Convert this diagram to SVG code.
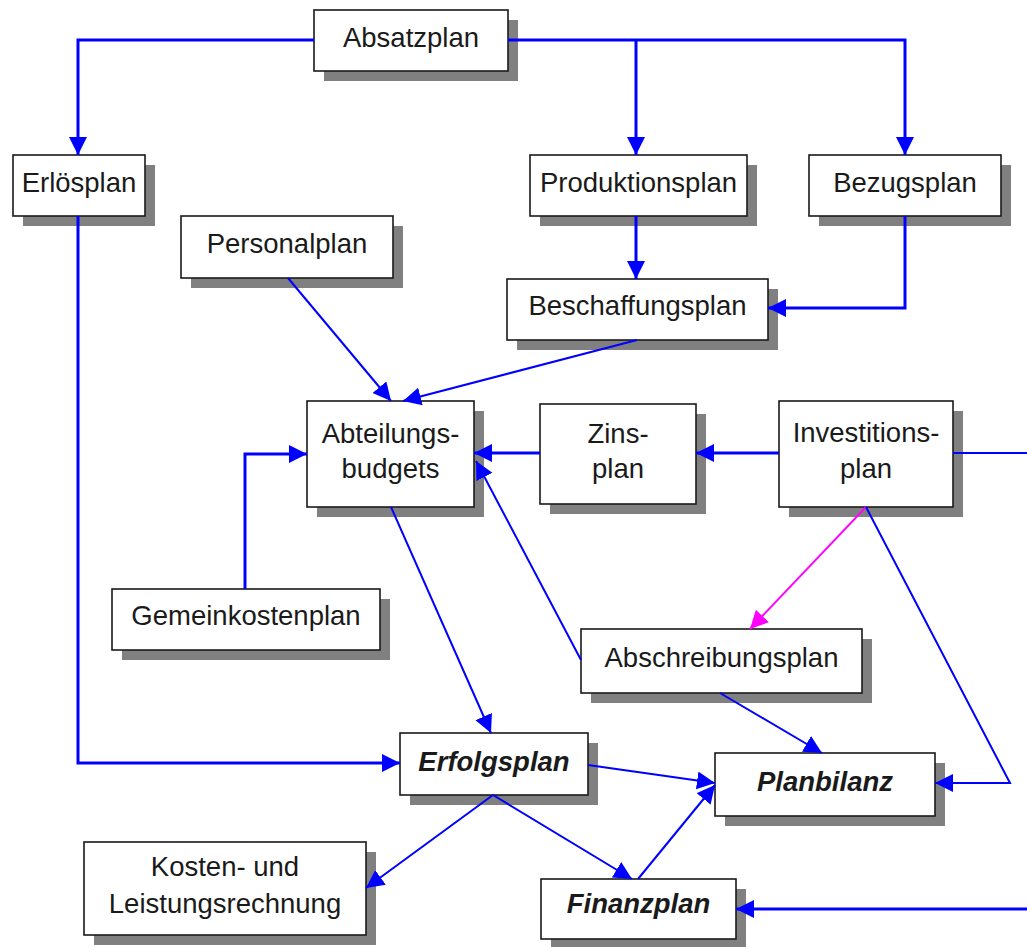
<svg xmlns="http://www.w3.org/2000/svg" width="1027" height="947" viewBox="0 0 1027 947">
  <style>
    .shadow { fill: #808080; }
    .box { fill: #ffffff; stroke: #1a1a1a; stroke-width: 1.6; }
    .lbl { font-family: "Liberation Sans", Arial, sans-serif; font-size: 27.5px; fill: #1a1a1a; text-anchor: middle; }
    .em { font-weight: bold; font-style: italic; }
    .thick { fill: none; stroke: #0000ff; stroke-width: 3; marker-end: url(#arrow); }
    .thin { fill: none; stroke: #0000ff; stroke-width: 2; marker-end: url(#arrow); }
    .plain { fill: none; stroke: #0000ff; stroke-width: 2; }
    .pink { fill: none; stroke: #ff00ff; stroke-width: 2; marker-end: url(#arrowPink); }
  </style>
  <defs>
    <marker id="arrow" markerUnits="userSpaceOnUse" markerWidth="19" markerHeight="19" refX="18" refY="9" orient="auto">
      <path d="M0,0 L18,9 L0,18 z" fill="#0000ff"/>
    </marker>
    <marker id="arrowPink" markerUnits="userSpaceOnUse" markerWidth="19" markerHeight="19" refX="18" refY="9" orient="auto">
      <path d="M0,0 L18,9 L0,18 z" fill="#ff00ff"/>
    </marker>
  </defs>

  <rect width="1027" height="947" fill="#ffffff"/>

  <g id="absatzplan">
    <rect class="shadow" x="324" y="20" width="194" height="61"/>
    <rect class="box" x="314" y="10" width="194" height="61"/>
    <text class="lbl" x="411" y="47">Absatzplan</text>
  </g>
  <g id="erloesplan">
    <rect class="shadow" x="23" y="165" width="132" height="61"/>
    <rect class="box" x="13" y="155" width="132" height="61"/>
    <text class="lbl" x="79" y="192">Erlösplan</text>
  </g>
  <g id="produktionsplan">
    <rect class="shadow" x="540" y="165" width="217" height="61"/>
    <rect class="box" x="530" y="155" width="217" height="61"/>
    <text class="lbl" x="638.5" y="192">Produktionsplan</text>
  </g>
  <g id="bezugsplan">
    <rect class="shadow" x="819" y="165" width="192" height="61"/>
    <rect class="box" x="809" y="155" width="192" height="61"/>
    <text class="lbl" x="905" y="192">Bezugsplan</text>
  </g>
  <g id="personalplan">
    <rect class="shadow" x="191" y="226" width="212" height="62"/>
    <rect class="box" x="181" y="216" width="212" height="62"/>
    <text class="lbl" x="287" y="253">Personalplan</text>
  </g>
  <g id="beschaffungsplan">
    <rect class="shadow" x="517" y="289" width="261" height="61"/>
    <rect class="box" x="507" y="279" width="261" height="61"/>
    <text class="lbl" x="637.5" y="315">Beschaffungsplan</text>
  </g>
  <g id="abteilungsbudgets">
    <rect class="shadow" x="317" y="411" width="167" height="106"/>
    <rect class="box" x="307" y="401" width="167" height="106"/>
    <text class="lbl" x="390.5" y="443">Abteilungs-</text>
    <text class="lbl" x="390.5" y="478">budgets</text>
  </g>
  <g id="zinsplan">
    <rect class="shadow" x="550" y="414" width="156" height="100"/>
    <rect class="box" x="540" y="404" width="156" height="100"/>
    <text class="lbl" x="618" y="443">Zins-</text>
    <text class="lbl" x="618" y="478">plan</text>
  </g>
  <g id="investitionsplan">
    <rect class="shadow" x="789" y="411" width="174" height="106"/>
    <rect class="box" x="779" y="401" width="174" height="106"/>
    <text class="lbl" x="866" y="442">Investitions-</text>
    <text class="lbl" x="866" y="478">plan</text>
  </g>
  <g id="gemeinkostenplan">
    <rect class="shadow" x="122" y="599" width="268" height="61"/>
    <rect class="box" x="112" y="589" width="268" height="61"/>
    <text class="lbl" x="246" y="625">Gemeinkostenplan</text>
  </g>
  <g id="abschreibungsplan">
    <rect class="shadow" x="591" y="639" width="281" height="64"/>
    <rect class="box" x="581" y="629" width="281" height="64"/>
    <text class="lbl" x="721.5" y="667">Abschreibungsplan</text>
  </g>
  <g id="erfolgsplan">
    <rect class="shadow" x="410" y="743" width="188" height="62"/>
    <rect class="box" x="400" y="733" width="188" height="62"/>
    <text class="lbl em" x="494" y="771">Erfolgsplan</text>
  </g>
  <g id="planbilanz">
    <rect class="shadow" x="725" y="763" width="220" height="63"/>
    <rect class="box" x="715" y="753" width="220" height="63"/>
    <text class="lbl em" x="825" y="791">Planbilanz</text>
  </g>
  <g id="kosten-leistungsrechnung">
    <rect class="shadow" x="94" y="852" width="282" height="93"/>
    <rect class="box" x="84" y="842" width="282" height="93"/>
    <text class="lbl" x="225" y="876">Kosten- und</text>
    <text class="lbl" x="225" y="913">Leistungsrechnung</text>
  </g>
  <g id="finanzplan">
    <rect class="shadow" x="551" y="889" width="195" height="60"/>
    <rect class="box" x="541" y="879" width="195" height="60"/>
    <text class="lbl em" x="638.5" y="913">Finanzplan</text>
  </g>

  <g id="connectors">
    <!-- orthogonal flows -->
    <path class="thick" d="M314,40 H78 V155"/>
    <path class="thick" d="M508,40 H905 V155"/>
    <path class="thick" d="M636,40 V155"/>
    <path class="thick" d="M636,216 V279"/>
    <path class="thick" d="M905,216 V308 H768"/>
    <path class="thick" d="M245,589 V454 H307"/>
    <path class="thick" d="M540,453 H474"/>
    <path class="thick" d="M779,453 H696"/>
    <path class="thick" d="M78,216 V763 H400"/>
    <path class="thick" d="M1027,909 H736"/>
    <!-- diagonal flows -->
    <path class="thin" d="M288,278 L391,401"/>
    <path class="thin" d="M637,340 L403,401"/>
    <path class="thin" d="M391,507 L491,733"/>
    <path class="thin" d="M581,660 L476,461"/>
    <path class="pink" d="M866,507 L750,629"/>
    <path class="thin" d="M866,507 L1010,783 L935,783"/>
    <path class="thin" d="M720,693 L822,753"/>
    <path class="thin" d="M588,765 L715,783"/>
    <path class="thin" d="M638,879 L715,785"/>
    <path class="thin" d="M493,795 L632,879"/>
    <path class="thin" d="M493,795 L366,888"/>
    <path class="plain" d="M953,453 H1027"/>
  </g>
</svg>
